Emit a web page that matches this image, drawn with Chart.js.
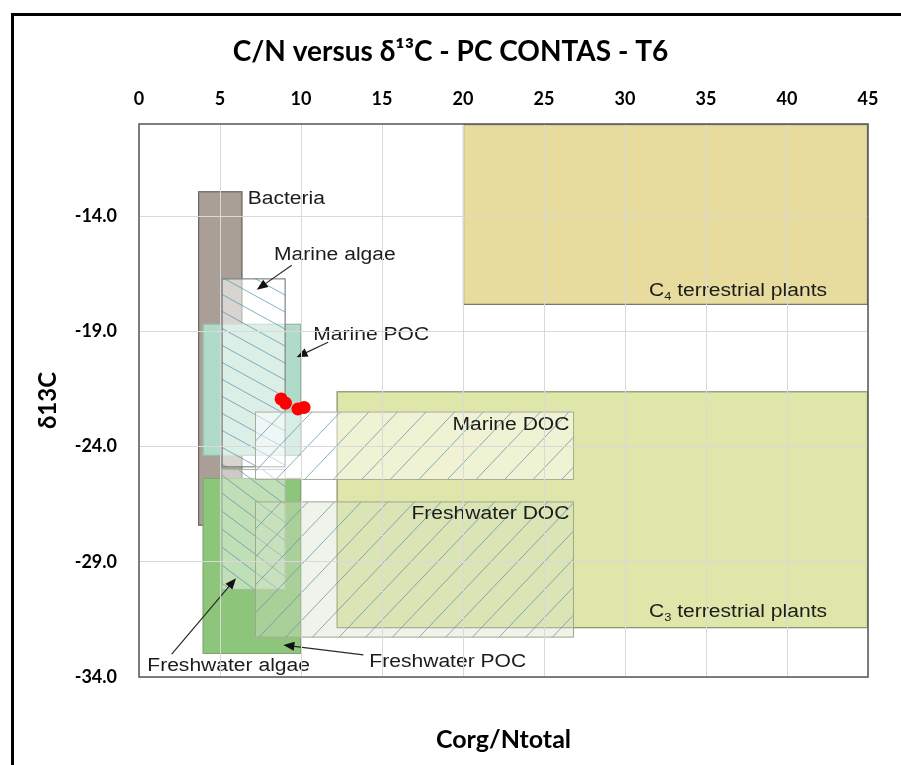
<!DOCTYPE html>
<html><head><meta charset="utf-8">
<script src="https://cdn.jsdelivr.net/npm/chart.js@4.4.1/dist/chart.umd.min.js"></script>
<style>
html,body{margin:0;padding:0;background:#fff;overflow:hidden;width:901px;height:765px}
#wrap{position:relative;width:901px;height:765px;overflow:hidden}
#frame{position:absolute;left:11px;top:13px;width:2000px;height:2000px;border:3px solid #000;pointer-events:none;box-sizing:border-box}
canvas{position:absolute;left:0;top:0}
</style></head><body>
<div id="wrap"><canvas id="c" width="901" height="765"></canvas><div id="frame"></div></div>
<script>
// ---- measured samples (C/N, δ13C) ----
const cnRatio = [8.77, 9.04, 9.81, 10.19];
const d13C = [-21.93, -22.11, -22.37, -22.30];

// ---- axes ----
const xTickValues = [0, 5, 10, 15, 20, 25, 30, 35, 40, 45];
const yTickValues = [-34, -29, -24, -19, -14];

// ---- source regions (data units) ----
const regionNames = ['C4 terrestrial plants', 'C3 terrestrial plants', 'Bacteria', 'Marine POC', 'Freshwater POC', 'Marine algae', 'Freshwater algae', 'Marine DOC', 'Freshwater DOC'];
const regionCNMin = [20, 12.2, 3.65, 3.93, 3.93, 5.1, 5.1, 7.16, 7.16];
const regionCNMax = [45, 45, 6.38, 10.0, 10.0, 9.05, 9.05, 26.85, 26.85];
const regionD13CMin = [-17.85, -31.88, -27.43, -24.4, -33.0, -24.9, -30.22, -25.45, -32.29];
const regionD13CMax = [-10, -21.6, -12.92, -18.67, -25.36, -16.7, -24.97, -22.48, -26.38];

// ---- region label texts ----
const labelTexts = [
  [{t:'C'},{t:'4',sub:true},{t:' terrestrial plants'}],
  [{t:'C'},{t:'3',sub:true},{t:' terrestrial plants'}],
  [{t:'Bacteria'}],
  [{t:'Marine POC'}],
  [{t:'Freshwater POC'}],
  [{t:'Marine algae'}],
  [{t:'Freshwater algae'}],
  [{t:'Marine DOC'}],
  [{t:'Freshwater DOC'}]
];
// label anchors in data units (x, y, align)
const labelAnchorX = [31.48, 31.48, 6.71, 10.76, 14.22, 8.33, 0.51, 26.57, 26.57];
const labelAnchorY = [-17.48, -31.39, -13.48, -19.39, -33.55, -15.91, -33.74, -23.27, -27.14];
const labelAlign = ['left','left','left','left','left','left','left','right','right'];

// arrows (tail -> head) in data units
const arrowFromX = [9.43, 11.67, 2.02, 13.85];
const arrowFromY = [-16.13, -19.47, -33.01, -33.04];
const arrowToX = [7.27, 9.73, 5.99, 8.91];
const arrowToY = [-17.19, -20.12, -29.71, -32.61];

// ---- styles ----
const regionStyle = {
  'C4 terrestrial plants': {fill:'#E7DC9D', stroke:'#7a7a6a', lw:1.3},
  'C3 terrestrial plants': {fill:'#DEE7A9', stroke:'#8c9070', lw:1.2},
  'Bacteria': {fill:'#A99F97', stroke:'#6f6660', lw:1.2},
  'Marine POC': {fill:'#B1DBC9', stroke:'#93b3a5', lw:1},
  'Freshwater POC': {fill:'#8DC57B', stroke:'#7aa86a', lw:1},
  'Marine algae': {fill:'rgba(255,255,255,0.55)', stroke:'#6a6a6a', lw:1, hatch:'\\', tan:0.55, gap:17},
  'Freshwater algae': {fill:'rgba(255,255,255,0.45)', stroke:'#9fb59a', lw:1, hatch:'\\', tan:0.75, gap:18},
  'Marine DOC': {fill:'rgba(255,255,255,0.5)', stroke:'#a8ac98', lw:1, hatch:'/', tan:1.05, gap:30},
  'Freshwater DOC': {fill:'rgba(215,225,200,0.4)', stroke:'#a0a890', lw:1, hatch:'/', tan:1.05, gap:28}
};
const LABEL_FONT = '"Liberation Sans", Arial, sans-serif';

function hatchRect(ctx, l, t, r, b, dir, tan, gap, color) {
  ctx.save();
  ctx.beginPath(); ctx.rect(l, t, r - l, b - t); ctx.clip();
  ctx.strokeStyle = color; ctx.lineWidth = 1;
  ctx.beginPath();
  if (dir === '/') {
    for (let C = l * tan + t; C <= r * tan + b + gap; C += gap) {
      ctx.moveTo(l, C - l * tan); ctx.lineTo(r, C - r * tan);
    }
  } else {
    for (let C = t - r * tan; C <= b - l * tan + gap; C += gap) {
      ctx.moveTo(l, C + l * tan); ctx.lineTo(r, C + r * tan);
    }
  }
  ctx.stroke();
  ctx.restore();
}

function drawLabel(ctx, parts, px, py, align, sx) {
  const main = '18px ' + LABEL_FONT, sub = '11px ' + LABEL_FONT;
  let total = 0;
  parts.forEach(p => { ctx.font = p.sub ? sub : main; total += ctx.measureText(p.t).width; });
  const x0 = align === 'right' ? px - total * sx : px;
  ctx.save();
  ctx.translate(x0, py); ctx.scale(sx, 1);
  ctx.fillStyle = '#1c1c1c'; ctx.textBaseline = 'alphabetic'; ctx.textAlign = 'left';
  let cx = 0;
  parts.forEach(p => {
    ctx.font = p.sub ? sub : main;
    ctx.fillText(p.t, cx, p.sub ? 4 : 0);
    cx += ctx.measureText(p.t).width;
  });
  ctx.restore();
}

function drawArrow(ctx, x1, y1, x2, y2) {
  const ang = Math.atan2(y2 - y1, x2 - x1), L = 11, W = 4.5;
  ctx.save();
  ctx.strokeStyle = '#2a2a2a'; ctx.fillStyle = '#111'; ctx.lineWidth = 1.2;
  ctx.beginPath(); ctx.moveTo(x1, y1);
  ctx.lineTo(x2 - Math.cos(ang) * L * 0.8, y2 - Math.sin(ang) * L * 0.8); ctx.stroke();
  ctx.beginPath();
  ctx.moveTo(x2, y2);
  ctx.lineTo(x2 - Math.cos(ang) * L + Math.sin(ang) * W, y2 - Math.sin(ang) * L - Math.cos(ang) * W);
  ctx.lineTo(x2 - Math.cos(ang) * L - Math.sin(ang) * W, y2 - Math.sin(ang) * L + Math.cos(ang) * W);
  ctx.closePath(); ctx.fill();
  ctx.restore();
}

const regionsPlugin = {
  id: 'regions',
  beforeDraw(chart) {
    const {ctx, scales: {x, y}} = chart;
    regionNames.forEach((name, i) => {
      const st = regionStyle[name];
      const l = x.getPixelForValue(regionCNMin[i]), r = x.getPixelForValue(regionCNMax[i]);
      const t = y.getPixelForValue(regionD13CMax[i]), b = y.getPixelForValue(regionD13CMin[i]);
      ctx.save();
      ctx.fillStyle = st.fill; ctx.fillRect(l, t, r - l, b - t);
      if (st.hatch) hatchRect(ctx, l, t, r, b, st.hatch, st.tan, st.gap, 'rgba(95,150,172,0.75)');
      ctx.strokeStyle = st.stroke; ctx.lineWidth = st.lw;
      ctx.strokeRect(l + 0.5, t + 0.5, r - l - 1, b - t - 1);
      ctx.restore();
    });
    labelTexts.forEach((parts, i) => {
      drawLabel(ctx, parts, x.getPixelForValue(labelAnchorX[i]), y.getPixelForValue(labelAnchorY[i]), labelAlign[i], 1.17);
    });
    arrowFromX.forEach((v, i) => {
      drawArrow(ctx, x.getPixelForValue(v), y.getPixelForValue(arrowFromY[i]),
                x.getPixelForValue(arrowToX[i]), y.getPixelForValue(arrowToY[i]));
    });
  },
  beforeDatasetsDraw(chart) {
    const {ctx, chartArea: a} = chart;
    ctx.save();
    ctx.strokeStyle = '#5f5f5f'; ctx.lineWidth = 1.6;
    ctx.strokeRect(a.left, a.top, a.right - a.left, a.bottom - a.top);
    ctx.restore();
  }
};

Chart.defaults.font.family = 'Lato, "Open Sans", "Noto Sans", sans-serif';
Chart.defaults.color = '#000';

new Chart(document.getElementById('c'), {
  type: 'scatter',
  data: {
    datasets: [{
      label: 'T6',
      data: cnRatio.map((v, i) => ({x: v, y: d13C[i]})),
      backgroundColor: '#FF0000',
      borderColor: '#FF0000',
      pointRadius: 6.5,
      pointHoverRadius: 6.5,
      borderWidth: 0
    }]
  },
  options: {
    responsive: false,
    animation: false,
    layout: {padding: 0},
    plugins: {
      legend: {display: false},
      tooltip: {enabled: false},
      title: {
        display: true,
        text: 'C/N versus δ¹³C - PC CONTAS - T6',
        font: {size: 28, weight: 'bold'},
        color: '#000',
        padding: {top: 35, bottom: 10}
      }
    },
    scales: {
      x: {
        type: 'linear', position: 'top', min: 0, max: 45,
        afterBuildTicks: s => { s.ticks = xTickValues.map(v => ({value: v})); },
        ticks: {padding: 14, font: {size: 18, weight: 'bold'}, color: '#000'},
        grid: {color: '#D9D9D9', drawTicks: false},
        border: {display: false},
        afterFit: s => { s.height = 45.4; }
      },
      y: {
        type: 'linear', position: 'left', min: -34, max: -10,
        afterBuildTicks: s => { s.ticks = yTickValues.map(v => ({value: v})); },
        ticks: {padding: 22, font: {size: 18, weight: 'bold'}, color: '#000', callback: v => Number(v).toFixed(1)},
        grid: {color: '#D9D9D9', drawTicks: false},
        border: {display: false},
        title: {display: true, text: 'δ13C', font: {size: 24, weight: 'bold'}, color: '#000', padding: {top: 34}},
        afterFit: s => { s.width = 139; }
      },
      x2: {
        type: 'linear', position: 'bottom', min: 0, max: 45,
        ticks: {display: false}, grid: {display: false}, border: {display: false},
        title: {display: true, text: 'Corg/Ntotal', font: {size: 25, weight: 'bold'}, color: '#000', padding: {bottom: 10}},
        afterFit: s => { s.height = 88; }
      },
      y2: {
        type: 'linear', position: 'right',
        ticks: {display: false}, grid: {display: false}, border: {display: false},
        afterFit: s => { s.width = 33; }
      }
    }
  },
  plugins: [regionsPlugin]
});
</script>
</body></html>
